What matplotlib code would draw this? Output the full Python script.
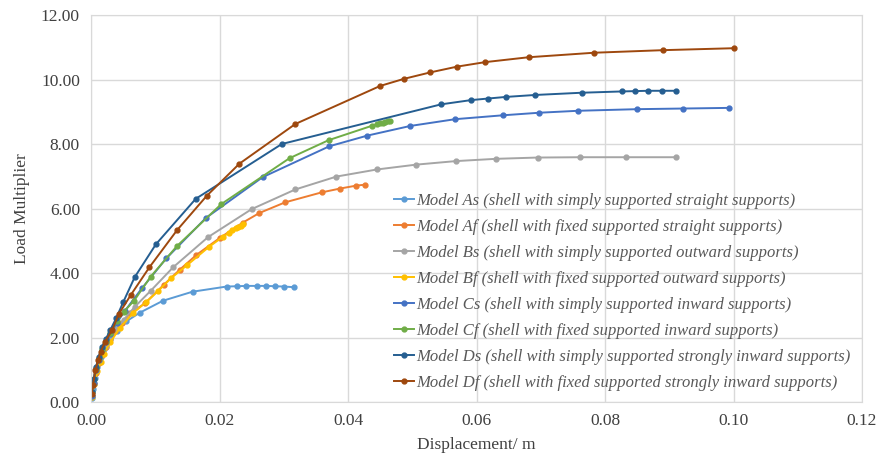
import matplotlib
matplotlib.use("Agg")
from matplotlib import pyplot as plt
from matplotlib.ticker import FormatStrFormatter

plt.rcParams['font.family'] = ['Liberation Serif', 'DejaVu Serif']

# Model As
as_x = [0.0001, 0.0003, 0.0006, 0.001, 0.0015, 0.002, 0.003, 0.004, 0.0055, 0.0076,
        0.0112, 0.0158, 0.0211, 0.0227, 0.0242, 0.0259, 0.0272, 0.0286, 0.0300, 0.0316]
as_y = [0.12, 0.4, 0.75, 1.1, 1.4, 1.65, 1.95, 2.2, 2.5, 2.77,
        3.14, 3.42, 3.58, 3.59, 3.60, 3.60, 3.60, 3.59, 3.58, 3.56]

# Model Af
af_x = [0.0001, 0.0004, 0.0008, 0.0012, 0.0017, 0.0023, 0.003, 0.0038, 0.0048, 0.0061, 0.0084,
        0.0113, 0.0138, 0.0164, 0.0200, 0.0236, 0.0262, 0.0302, 0.0359, 0.0388, 0.0413, 0.0427]
af_y = [0.2, 0.55, 0.9, 1.2, 1.45, 1.7, 1.95, 2.2, 2.45, 2.75, 3.06,
        3.63, 4.1, 4.56, 5.08, 5.56, 5.86, 6.19, 6.50, 6.62, 6.71, 6.74]

# Model Bs
bs_x = [0.0001, 0.0004, 0.0008, 0.0012, 0.0017, 0.0023, 0.003, 0.0039, 0.0051, 0.0068, 0.0093, 0.0128,
        0.0182, 0.0250, 0.0318, 0.0382, 0.0445, 0.0506, 0.0568, 0.0630, 0.0695, 0.0761, 0.0832, 0.0910]
bs_y = [0.2, 0.55, 0.95, 1.25, 1.5, 1.75, 2.0, 2.25, 2.55, 2.95, 3.45, 4.18,
        5.11, 5.98, 6.59, 6.99, 7.21, 7.36, 7.47, 7.54, 7.58, 7.59, 7.59, 7.59]

# Model Bf
bf_x = [0.0001, 0.0005, 0.001, 0.0015, 0.002, 0.003, 0.0045, 0.0065, 0.0086, 0.0105,
        0.0124, 0.015, 0.0183, 0.0205, 0.0215, 0.022, 0.0225, 0.0229, 0.0233, 0.0237]
bf_y = [0.15, 0.55, 0.95, 1.25, 1.5, 1.85, 2.3, 2.75, 3.1, 3.45,
        3.83, 4.25, 4.8, 5.12, 5.25, 5.32, 5.38, 5.42, 5.47, 5.52]

# Model Cs
cs_x = [0.0001, 0.0004, 0.0008, 0.0012, 0.0017, 0.0023, 0.003, 0.004, 0.0053, 0.0079, 0.0117, 0.0179,
        0.0267, 0.0371, 0.0430, 0.0497, 0.0567, 0.0641, 0.0698, 0.0758, 0.0850, 0.0922, 0.0993]
cs_y = [0.2, 0.6, 1.0, 1.3, 1.6, 1.85, 2.1, 2.45, 2.83, 3.52, 4.45, 5.71,
        6.97, 7.93, 8.26, 8.56, 8.77, 8.89, 8.97, 9.03, 9.08, 9.10, 9.12]

# Model Cf
cf_x = [0.0001, 0.0004, 0.0008, 0.0012, 0.0017, 0.0023, 0.003, 0.004, 0.0051, 0.0067, 0.0093,
        0.0134, 0.0203, 0.0309, 0.0370, 0.0438, 0.0445, 0.0450, 0.0454, 0.0458, 0.0462, 0.0466]
cf_y = [0.3, 0.7, 1.05, 1.35, 1.65, 1.9, 2.15, 2.5, 2.8, 3.14, 3.89,
        4.84, 6.14, 7.56, 8.12, 8.57, 8.61, 8.64, 8.66, 8.68, 8.70, 8.72]

# Model Ds
ds_x = [0.0001, 0.0004, 0.0008, 0.0012, 0.0017, 0.0023, 0.003, 0.0039, 0.005, 0.0068, 0.0101, 0.0163,
        0.0297, 0.0545, 0.0591, 0.0618, 0.0646, 0.0691, 0.0764, 0.0827, 0.0847, 0.0867, 0.0888, 0.0910]
ds_y = [0.3, 0.7, 1.1, 1.4, 1.7, 1.95, 2.23, 2.59, 3.09, 3.87, 4.89, 6.30,
        8.0, 9.23, 9.36, 9.41, 9.46, 9.52, 9.59, 9.63, 9.64, 9.65, 9.65, 9.65]

# Model Df
df_x = [0.0001, 0.0003, 0.0007, 0.0011, 0.0015, 0.0022, 0.0033, 0.0043, 0.0062, 0.0091, 0.0134, 0.0180,
        0.0231, 0.0318, 0.0450, 0.0487, 0.0528, 0.0570, 0.0614, 0.0681, 0.0783, 0.0891, 0.1000]
df_y = [0.25, 0.53, 0.99, 1.3, 1.56, 1.87, 2.23, 2.72, 3.32, 4.18, 5.33, 6.39,
        7.39, 8.62, 9.80, 10.02, 10.22, 10.40, 10.54, 10.69, 10.83, 10.91, 10.97]

labels = [
    "Model As (shell with simply supported straight supports)",
    "Model Af (shell with fixed supported straight supports)",
    "Model Bs (shell with simply supported outward supports)",
    "Model Bf (shell with fixed supported outward supports)",
    "Model Cs (shell with simply supported inward supports)",
    "Model Cf (shell with fixed supported inward supports)",
    "Model Ds (shell with simply supported strongly inward supports)",
    "Model Df (shell with fixed supported strongly inward supports)",
]
colors = ["#5B9BD5", "#ED7D31", "#A5A5A5", "#FFC000", "#4472C4", "#70AD47", "#255E91", "#9E480E"]
series = [(as_x, as_y), (af_x, af_y), (bs_x, bs_y), (bf_x, bf_y),
          (cs_x, cs_y), (cf_x, cf_y), (ds_x, ds_y), (df_x, df_y)]

fig = plt.figure(figsize=(8.8, 4.58), dpi=100)
ax = fig.add_axes([91 / 880, 1 - 402 / 458, (862 - 91) / 880, (402 - 15) / 458])

for (x, y), c, lab in zip(series, colors, labels):
    ax.plot(x, y, color=c, lw=1.4, marker='o', ms=3.5, label=lab)

ax.set_xlim(0, 0.12)
ax.set_ylim(0, 12)
ax.set_xticks([0, 0.02, 0.04, 0.06, 0.08, 0.10, 0.12])
ax.set_yticks([0, 2, 4, 6, 8, 10, 12])
ax.xaxis.set_major_formatter(FormatStrFormatter('%.2f'))
ax.yaxis.set_major_formatter(FormatStrFormatter('%.2f'))
ax.grid(True, color='#D9D9D9', lw=1)
ax.set_axisbelow(True)
for s in ax.spines.values():
    s.set_color('#D9D9D9')
ax.tick_params(length=0, labelsize=12.5, colors='#404040', pad=8)
ax.set_xlabel("Displacement/ m", fontsize=12.5, color='#404040', labelpad=6)
ax.set_ylabel("Load Multiplier", fontsize=12.5, color='#404040', labelpad=8)

leg = ax.legend(loc='upper left', bbox_to_anchor=(394 / 880, 1 - 193 / 458),
                bbox_transform=fig.transFigure, frameon=False,
                prop={'style': 'italic', 'size': 12}, handlelength=1.2,
                handletextpad=0.15, labelspacing=0.6, borderpad=0, borderaxespad=0)
for t in leg.get_texts():
    t.set_color('#595959')

fig.savefig("out.png", dpi=100)
